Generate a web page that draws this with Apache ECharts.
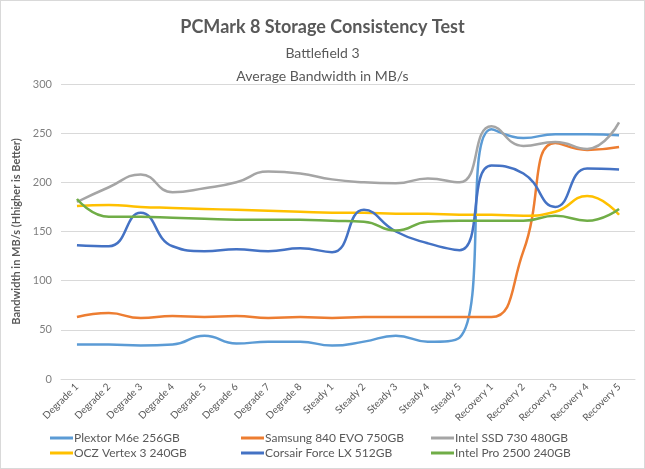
<!DOCTYPE html>
<html>
<head>
<meta charset="utf-8">
<script src="https://cdn.jsdelivr.net/npm/echarts@6/dist/echarts.min.js"></script>
<style>
html,body{margin:0;padding:0;background:#fff;}
#chart{width:645px;height:469px;box-sizing:border-box;border:1px solid #d9d9d9;}
</style>
</head>
<body>
<div id="chart"></div>
<script>
const categories = ["Degrade 1","Degrade 2","Degrade 3","Degrade 4","Degrade 5","Degrade 6","Degrade 7","Degrade 8","Steady 1","Steady 2","Steady 3","Steady 4","Steady 5","Recovery 1","Recovery 2","Recovery 3","Recovery 4","Recovery 5"];
const plextor  = [35, 35, 34, 35, 44, 36, 38, 38, 34, 38, 44, 38, 42, 254, 245, 249, 249, 248];
const samsung  = [63, 67, 62, 64, 63, 64, 62, 63, 62, 63, 63, 63, 63, 63, 130, 240, 233, 236];
const intelSSD = [180, 195, 208, 190, 194, 200, 211, 209, 203, 200, 199, 204, 200, 257, 237, 241, 234, 261];
const ocz      = [176, 177, 175, 174, 173, 172, 171, 170, 169, 169, 168, 168, 167, 167, 166, 170, 186, 167];
const corsair  = [136, 135, 169, 135, 130, 132, 130, 133, 129, 172, 150, 138, 131, 217, 209, 175, 214, 213];
const intelPro = [183, 165, 165, 164, 163, 162, 162, 162, 161, 160, 151, 160, 161, 161, 161, 166, 161, 173];
const yTicks = { min: 0, max: 300, interval: 50 };

const seriesDefs = [
  { name: "Plextor M6e 256GB", data: plextor, color: "#5B9BD5" },
  { name: "Samsung 840 EVO 750GB", data: samsung, color: "#ED7D31" },
  { name: "Intel SSD 730 480GB", data: intelSSD, color: "#A5A5A5" },
  { name: "OCZ Vertex 3 240GB", data: ocz, color: "#FFC000" },
  { name: "Corsair Force LX 512GB", data: corsair, color: "#4472C4" },
  { name: "Intel Pro 2500 240GB", data: intelPro, color: "#70AD47" }
];

const FONT = "Lato";
const chart = echarts.init(document.getElementById('chart'), null, { renderer: 'canvas' });

const legendCommon = {
  orient: 'vertical',
  top: 431,
  height: 40,
  padding: 0,
  itemWidth: 23,
  itemHeight: 3,
  itemGap: 3,
  icon: 'rect',
  textStyle: { fontFamily: FONT, fontSize: 12, color: '#595959', padding: [0,0,0,-4] }
};

chart.setOption({
  animation: false,
  backgroundColor: '#fff',
  title: [
    { text: 'PCMark 8 Storage Consistency Test', left: 'center', top: 12,
      textStyle: { fontFamily: FONT, fontSize: 18, fontWeight: 'bold', color: '#595959' } },
    { text: 'Battlefield 3', left: 'center', top: 40,
      textStyle: { fontFamily: FONT, fontSize: 14, fontWeight: 'normal', color: '#595959' } },
    { text: 'Average Bandwidth in MB/s', left: 'center', top: 63,
      textStyle: { fontFamily: FONT, fontSize: 14, fontWeight: 'normal', color: '#595959' } }
  ],
  legend: [
    Object.assign({ left: 49, data: [seriesDefs[0].name, seriesDefs[3].name] }, legendCommon),
    Object.assign({ left: 240, data: [seriesDefs[1].name, seriesDefs[4].name] }, legendCommon),
    Object.assign({ left: 430, data: [seriesDefs[2].name, seriesDefs[5].name] }, legendCommon)
  ],
  grid: { left: 60, right: 9, top: 83, bottom: 89, containLabel: false },
  xAxis: {
    type: 'category',
    data: categories,
    boundaryGap: true,
    axisLine: { show: true, lineStyle: { color: '#d9d9d9', width: 1 } },
    axisTick: { show: false },
    axisLabel: { rotate: 45, fontFamily: FONT, fontSize: 10, color: '#595959', interval: 0, margin: 6 }
  },
  yAxis: {
    type: 'value',
    min: yTicks.min, max: yTicks.max, interval: yTicks.interval,
    name: 'Bandwidth in MB/s (Hhigher is Better)',
    nameLocation: 'middle',
    nameGap: 34,
    nameTextStyle: { fontFamily: FONT, fontSize: 11, fontWeight: 'bold', color: '#595959' },
    axisLine: { show: false },
    axisTick: { show: false },
    splitLine: { lineStyle: { color: '#d9d9d9', width: 1 } },
    axisLabel: { fontFamily: FONT, fontSize: 11, color: '#7f7f7f', margin: 9 }
  },
  series: seriesDefs.map(s => ({
    name: s.name,
    type: 'line',
    data: s.data,
    smooth: 0.5,
    symbol: 'none',
    color: s.color,
    lineStyle: { color: s.color, width: 2.5 },
    itemStyle: { color: s.color }
  }))
});
</script>
</body>
</html>
